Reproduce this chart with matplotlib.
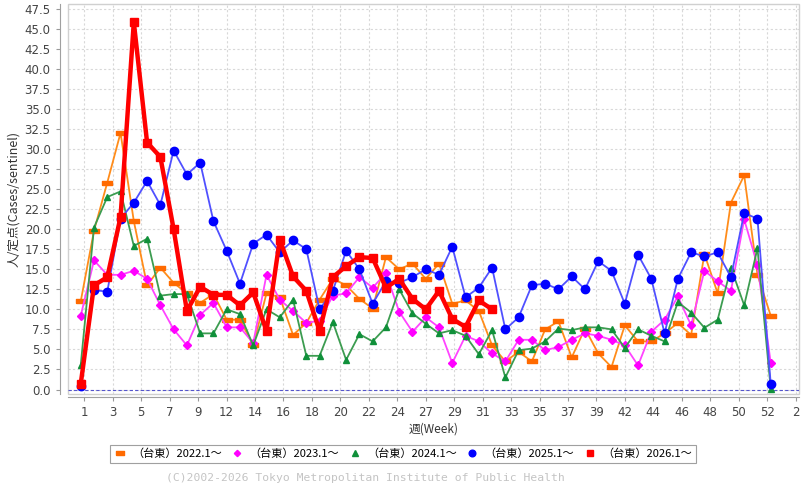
import numpy as np
import matplotlib.pyplot as plt
from matplotlib.lines import Line2D
from matplotlib.patches import Rectangle

# weekly cases per sentinel, Taito ward
weeks = np.arange(1, 54)
weeks_2026 = np.arange(1, 33)

v2022 = [11.0, 19.8, 25.8, 32.0, 21.0, 13.0, 15.2, 13.3, 12.0, 10.8,
         11.9, 8.7, 8.7, 5.5, 12.0, 11.5, 6.8, 8.3, 11.2, 13.8,
         13.0, 11.3, 10.1, 16.5, 15.0, 15.7, 13.8, 15.7, 10.7, 11.1,
         9.8, 5.5, 3.5, 4.7, 3.5, 7.5, 8.5, 4.0, 7.6, 4.5,
         2.8, 8.0, 6.0, 6.0, 7.0, 8.3, 6.8, 16.9, 12.0, 23.3,
         26.7, 14.3, 9.2]
v2023 = [9.2, 16.1, 14.3, 14.3, 14.8, 13.8, 10.5, 7.5, 5.5, 9.3,
         10.8, 7.75, 7.75, 5.8, 14.3, 11.2, 9.8, 8.3, 8.6, 11.7,
         12.0, 14.0, 12.7, 14.5, 9.7, 7.2, 9.0, 7.75, 3.3, 6.7,
         6.0, 4.5, 3.5, 6.2, 6.2, 4.9, 5.3, 6.2, 7.0, 6.7,
         6.2, 5.5, 3.0, 7.2, 8.7, 11.6, 8.0, 14.8, 13.5, 12.3,
         21.2, 15.5, 3.3]
v2024 = [3.05, 20.2, 24.0, 24.7, 17.9, 18.8, 11.7, 11.9, 11.9, 7.0,
         7.0, 10.0, 9.4, 5.5, 10.0, 9.0, 11.2, 4.2, 4.2, 8.4,
         3.7, 6.9, 6.0, 7.75, 12.5, 9.5, 8.2, 7.0, 7.4, 6.7,
         4.4, 7.4, 1.5, 4.9, 5.1, 6.0, 7.6, 7.4, 7.75, 7.75,
         7.5, 5.2, 7.5, 6.7, 6.0, 10.9, 9.6, 7.7, 8.7, 15.2,
         10.5, 17.6, 0.1]
v2025 = [0.4, 12.4, 12.2, 21.3, 23.3, 26.0, 23.0, 29.8, 26.8, 28.3,
         21.0, 17.3, 13.2, 18.2, 19.3, 17.1, 18.6, 17.5, 10.0, 12.3,
         17.3, 15.0, 10.7, 13.5, 13.3, 14.0, 15.0, 14.3, 17.8, 11.5,
         12.7, 15.2, 7.5, 9.0, 13.0, 13.2, 12.5, 14.1, 12.5, 16.0,
         14.8, 10.7, 16.8, 13.8, 7.0, 13.8, 17.1, 16.6, 17.1, 14.0,
         22.0, 21.3, 0.7]
v2026 = [0.7, 13.0, 14.0, 21.5, 45.8, 30.8, 29.0, 20.0, 9.8, 12.8,
         11.8, 11.8, 10.5, 12.1, 7.3, 18.7, 14.1, 12.3, 7.3, 14.0,
         15.4, 16.5, 16.4, 12.7, 13.8, 11.3, 10.0, 12.3, 8.8, 7.8,
         11.1, 10.0]

labels = ['（台東）2022.1～', '（台東）2023.1～', '（台東）2024.1～',
          '（台東）2025.1～', '（台東）2026.1～']
week_labels = ['1', '3', '5', '7', '9', '12', '14', '16', '18', '20', '22', '24',
               '27', '29', '31', '33', '35', '37', '39', '42', '44', '46', '48',
               '50', '52', '2']

cjk = ['Noto Sans CJK JP', 'DejaVu Sans']
rect = [(-1, -0.45), (1, -0.45), (1, 0.45), (-1, 0.45), (-1, -0.45)]

styles = [
    dict(color='#ff8c1a', marker=rect, mfc='#ff6a00', mec='#ff6a00', ms=7, lw=1.3),
    dict(color='#ff44ff', marker='D', mfc='#ff00ff', mec='#ff00ff', ms=4, lw=1.3),
    dict(color='#3c9c50', marker='^', mfc='#10903a', mec='#10903a', ms=5, lw=1.3),
    dict(color='#5050ff', marker='o', mfc='#0000ff', mec='#0000ff', ms=6, lw=1.3),
    dict(color='#ff0000', marker='s', mfc='#ff0000', mec='#ff0000', ms=6, lw=3.2),
]

fig = plt.figure(figsize=(8.05, 4.88), dpi=100)
ax = fig.add_axes([68 / 805, 1 - 394 / 488, 731 / 805, 390 / 488])

series = [(weeks, v2022), (weeks, v2023), (weeks, v2024), (weeks, v2025),
          (weeks_2026, v2026)]
for (x, y), st in zip(series, styles):
    ax.plot(x, y, zorder=3, **st)

ax.axhline(0, color='#5555cc', lw=0.8, ls=(0, (3, 2)), zorder=2)

ax.set_xlim(0.04, 55.13)
ax.set_ylim(-0.56, 48.07)
ax.set_yticks(np.arange(0, 47.6, 2.5))
ax.set_yticklabels(['%.1f' % v for v in np.arange(0, 47.6, 2.5)])
xt = 1.27 + 2.144 * np.arange(len(week_labels))
ax.set_xticks(xt)
ax.set_xticklabels(week_labels)
ax.tick_params(labelsize=8.5, labelcolor='#444444', color='#999999', length=3)

ax.grid(True, color='#d8d8d8', ls=(0, (2, 2)), lw=0.8)
ax.set_axisbelow(True)

for s in ['top', 'right']:
    ax.spines[s].set_visible(False)
ax.spines['left'].set_position(('outward', 6))
ax.spines['bottom'].set_position(('outward', 2))
ax.spines['left'].set_color('#a0a0a0')
ax.spines['bottom'].set_color('#a0a0a0')
ax.add_patch(Rectangle((0, 0), 1, 1, transform=ax.transAxes, fill=False,
                       ec='#d0d0d0', lw=1, clip_on=False, zorder=1))

ax.set_xlabel('週(Week)', family=cjk, fontsize=8.5, color='#333333', labelpad=3)
ax.set_ylabel('人/定点(Cases/sentinel)', family=cjk, fontsize=9,
              color='#333333', labelpad=3)

handles = [Line2D([], [], ls='none', marker=st['marker'], mfc=st['mfc'],
                  mec=st['mec'], ms=st['ms'] * 0.8) for st in styles]
leg = fig.legend(handles, labels, loc='center', ncol=5,
                 bbox_to_anchor=(403 / 805, 1 - 454 / 488),
                 prop={'family': cjk, 'size': 8}, frameon=True, fancybox=False,
                 edgecolor='#888888', handlelength=1.0, handletextpad=0.6,
                 columnspacing=0.9, borderpad=0.35)
leg.get_frame().set_linewidth(0.8)

fig.text(365 / 805, 1 - 478 / 488,
         '(C)2002-2026 Tokyo Metropolitan Institute of Public Health',
         ha='center', va='center', family='DejaVu Sans Mono', fontsize=8.2,
         color='#c4c4c4')

fig.savefig('out.png', dpi=100)
